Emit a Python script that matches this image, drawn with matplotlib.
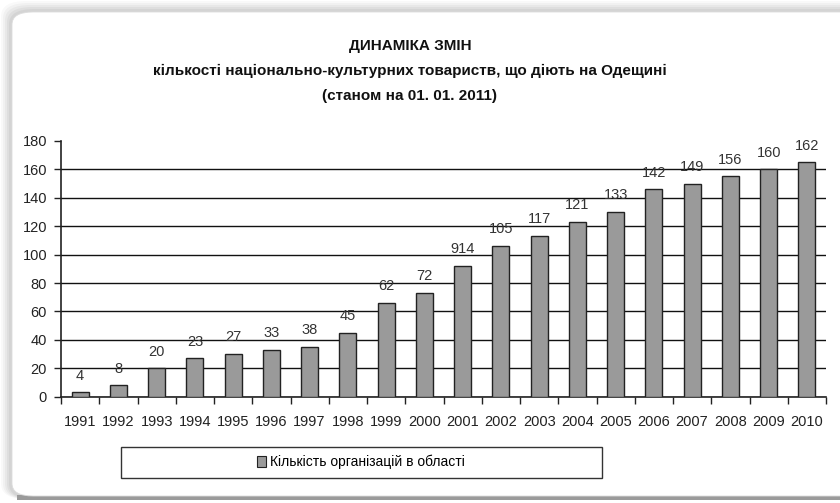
import matplotlib
matplotlib.use('Agg')
from matplotlib import pyplot as plt
from matplotlib.patches import FancyBboxPatch, Rectangle, Patch

years = ['1991', '1992', '1993', '1994', '1995', '1996', '1997', '1998', '1999', '2000',
         '2001', '2002', '2003', '2004', '2005', '2006', '2007', '2008', '2009', '2010']
# bar heights as drawn in the picture
heights = [3, 8, 20, 27, 30, 33, 35, 45, 66, 73,
           92, 106, 113, 123, 130, 146, 150, 155, 160, 165]
# value labels as printed in the picture
labels = ['4', '8', '20', '23', '27', '33', '38', '45', '62', '72',
          '914', '105', '117', '121', '133', '142', '149', '156', '160', '162']
yticks = [0, 20, 40, 60, 80, 100, 120, 140, 160, 180]

FONT = ['Liberation Sans Narrow', 'Liberation Sans', 'DejaVu Sans']
plt.rcParams['font.family'] = FONT

W, H = 840, 503
fig = plt.figure(figsize=(8.4, 5.03), dpi=100)
fig.patch.set_facecolor('white')

# outer frame with soft shadow
for i, a in enumerate([0.025, 0.03, 0.035, 0.04, 0.045]):
    off = 1 + i * 2
    fig.patches.append(FancyBboxPatch((off / W, 4 / H), (W + 40) / W, (H - off - 4) / H,
                                      boxstyle='round,pad=0,rounding_size=0.03',
                                      transform=fig.transFigure, facecolor='black',
                                      edgecolor='none', alpha=a, zorder=0))
fig.patches.append(Rectangle((0.02, 3 / H), 1, 5 / H, transform=fig.transFigure,
                             facecolor='#9a9a9a', edgecolor='none', zorder=0.5))
fig.patches.append(FancyBboxPatch((12 / W, 7 / H), (W + 40) / W, (H - 19) / H,
                                  boxstyle='round,pad=0,rounding_size=0.025',
                                  transform=fig.transFigure, facecolor='white',
                                  edgecolor='#dddddd', linewidth=0.6, zorder=1))

ax = fig.add_axes([61 / W, 1 - 396.7 / H, (826 - 61) / W, (396.7 - 140.9) / H])
ax.set_zorder(5)
ax.set_facecolor('none')
x = list(range(len(years)))
ax.bar(x, heights, width=0.45, color='#9a9a9a', edgecolor='#222222', linewidth=1.0, zorder=3)

for xi, h, lab in zip(x, heights, labels):
    ax.annotate(lab, (xi, h), xytext=(0, 12), textcoords='offset points',
                ha='center', va='center', fontsize=10.5, color='#333333')

ax.set_xlim(-0.5, len(years) - 0.5)
ax.set_ylim(0, 180)
ax.set_yticks(yticks)
ax.set_yticklabels([str(v) for v in yticks], fontsize=10.5, color='#222222')
ax.set_xticks(x)
ax.set_xticklabels(years, fontsize=10.5, color='#222222')
ax.set_xticks([i - 0.5 for i in range(len(years) + 1)], minor=True)
ax.tick_params(axis='x', which='major', length=0, pad=13)
ax.tick_params(axis='x', which='minor', length=5, width=1, color='#222222', direction='out')
ax.tick_params(axis='y', length=5, width=1, color='#222222', pad=5)

ax.yaxis.grid(True, color='#111111', linewidth=1.0, zorder=1)
ax.set_axisbelow(True)
ax.get_ygridlines()[-1].set_visible(False)
for s in ['top', 'right']:
    ax.spines[s].set_visible(False)
for s in ['left', 'bottom']:
    ax.spines[s].set_color('#222222')
    ax.spines[s].set_linewidth(1.2)

# title
fig.text(410 / W, 1 - 46 / H, 'ДИНАМІКА ЗМІН', ha='center', va='center',
         fontsize=11, fontweight='bold', color='#111111', zorder=6)
fig.text(410 / W, 1 - 71 / H,
         'кількості національно-культурних товариств, що діють на Одещині',
         ha='center', va='center', fontsize=11, fontweight='bold', color='#111111', zorder=6)
fig.text(410 / W, 1 - 96 / H, '(станом на 01. 01. 2011)', ha='center', va='center',
         fontsize=11, fontweight='bold', color='#111111', zorder=6)

# legend box
fig.patches.append(Rectangle((121 / W, 1 - 477.7 / H), (601.7 - 121) / W, 31 / H,
                             transform=fig.transFigure, facecolor='white',
                             edgecolor='#333333', linewidth=1.0, zorder=2))
leg = fig.legend(handles=[Patch(facecolor='#9a9a9a', edgecolor='#222222', linewidth=0.8,
                                label='Кількість організацій в області')],
                 loc='center', bbox_to_anchor=(361 / W, 1 - 462 / H), frameon=False,
                 fontsize=10, handlelength=0.6, handleheight=0.8, handletextpad=0.3)
leg.set_zorder(6)

fig.savefig('out.png', dpi=100, facecolor='white')
